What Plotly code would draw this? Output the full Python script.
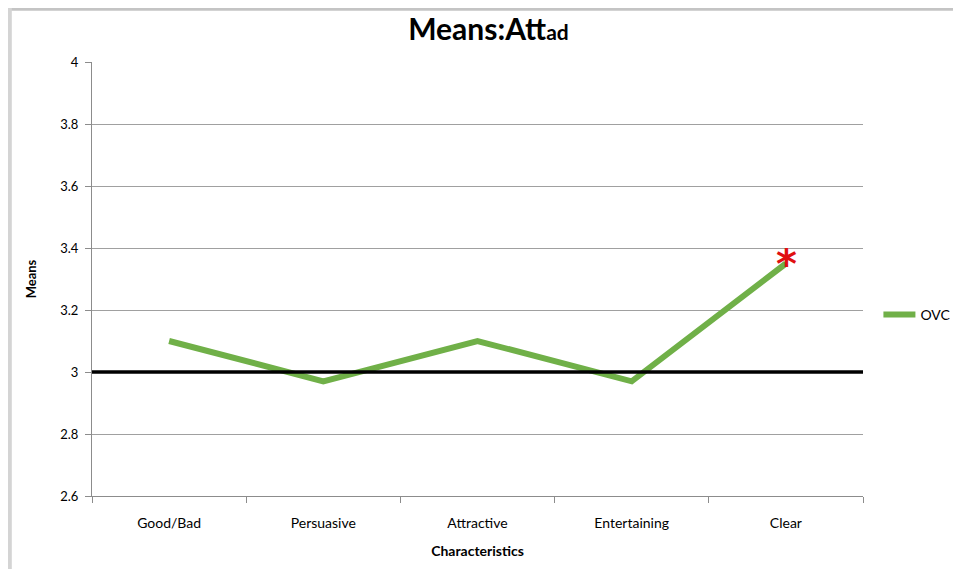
import plotly.graph_objects as go

categories = ["Good/Bad", "Persuasive", "Attractive", "Entertaining", "Clear"]
ovc_means = [3.10, 2.97, 3.10, 2.97, 3.35]
reference_level = 3.0
y_ticks = [2.6, 2.8, 3.0, 3.2, 3.4, 3.6, 3.8, 4.0]
y_tick_text = ["2.6", "2.8", "3", "3.2", "3.4", "3.6", "3.8", "4"]
significant = ["Clear"]

FONT = "Lato, 'Open Sans', sans-serif"

fig = go.Figure()
fig.add_trace(go.Scatter(
    x=categories, y=ovc_means, mode="lines", name="OVC",
    line=dict(color="#70b048", width=6),
))

fig.add_shape(type="line", xref="paper", yref="y", x0=0, x1=1,
              y0=reference_level, y1=reference_level,
              line=dict(color="black", width=3.5))

for c in significant:
    i = categories.index(c)
    fig.add_annotation(x=c, y=ovc_means[i], text="<b>*</b>", showarrow=False,
                       xshift=1, yshift=0,
                       font=dict(color="#e01010", size=40, family="DejaVu Sans"))

# frame shadows
fig.add_shape(type="rect", xref="paper", yref="paper", x0=-0.2, x1=1.2, y0=1.118, y1=1.2,
              fillcolor="#c4c4c4", line_width=0, layer="below")
fig.add_shape(type="rect", xref="paper", yref="paper", x0=-0.2, x1=-0.104, y0=-0.3, y1=1.2,
              fillcolor="#d4d4d4", line_width=0, layer="below")

fig.update_layout(
    width=961, height=569,
    margin=dict(l=84, r=106, t=54, b=81, autoexpand=False),
    paper_bgcolor="white", plot_bgcolor="white",
    title=dict(text="<b>Means:Att<span style='font-size:21px'>ad</span></b>",
               x=0.5, xanchor="center", y=0.962, yanchor="middle",
               font=dict(family=FONT, size=30, color="black")),
    font=dict(family=FONT, size=13, color="black"),
    legend=dict(x=1.02, y=0.417, xanchor="left", yanchor="middle",
                font=dict(size=14), bgcolor="rgba(0,0,0,0)", itemwidth=32),
    showlegend=True,
)
fig.update_xaxes(
    range=[-0.5, 4.5],
    showline=True, linecolor="#8c8c8c", linewidth=1,
    ticks="outside", tickson="boundaries", ticklen=6, tickcolor="#8c8c8c",
    showgrid=False, ticklabelstandoff=14,
    title=dict(text="<b>Characteristics</b>", font=dict(size=14), standoff=16),
    tickfont=dict(size=14),
)
fig.update_yaxes(
    range=[2.6, 4.0], tickvals=y_ticks, ticktext=y_tick_text,
    showline=True, linecolor="#8c8c8c", linewidth=1,
    ticks="outside", ticklen=6, tickcolor="#8c8c8c",
    showgrid=True, gridcolor="#a0a0a0", gridwidth=1,
    zeroline=False, ticklabelstandoff=4,
    title=dict(text="<b>Means</b>", font=dict(size=13), standoff=20),
    tickfont=dict(size=13),
)

fig.write_html("out.html")
